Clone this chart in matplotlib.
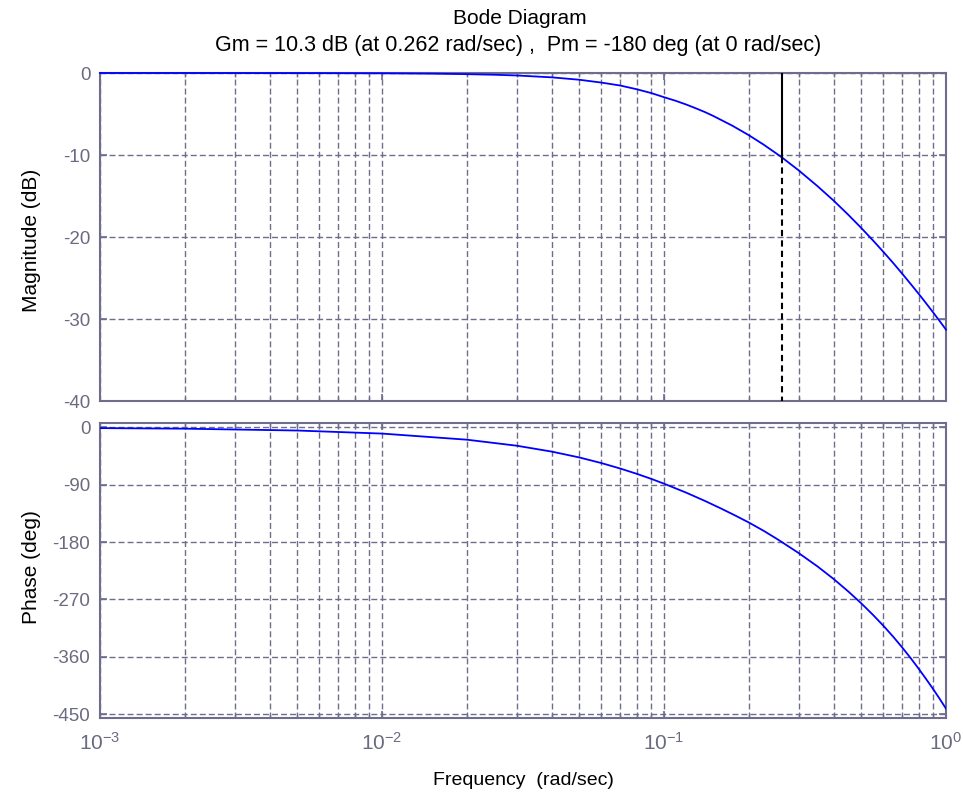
import matplotlib
matplotlib.use("Agg")
import matplotlib.pyplot as plt
from matplotlib.ticker import FixedLocator, LogLocator, NullFormatter, FixedFormatter

# Magnitude response samples (rad/sec, dB)
mag_freq = [0.001, 0.002, 0.005, 0.01, 0.015, 0.02, 0.025, 0.03, 0.04, 0.05,
            0.06, 0.07, 0.08, 0.09, 0.1, 0.11, 0.12, 0.13, 0.14, 0.15, 0.175,
            0.2, 0.225, 0.25, 0.262, 0.3, 0.35, 0.4, 0.45, 0.5, 0.55, 0.6,
            0.65, 0.7, 0.75, 0.8, 0.85, 0.9, 0.95, 1.0]
mag_db = [0.0, -0.001, -0.01, -0.035, -0.078, -0.14, -0.214, -0.30, -0.53, -0.82,
          -1.17, -1.53, -1.98, -2.44, -2.95, -3.39, -3.85, -4.32, -4.78, -5.26, -6.44,
          -7.59, -8.71, -9.80, -10.3, -11.86, -13.79, -15.58, -17.28, -18.88, -20.39, -21.82,
          -23.18, -24.49, -25.74, -26.93, -28.08, -29.19, -30.26, -31.3]

# Phase response samples (rad/sec, deg)
ph_freq = [0.001, 0.002, 0.005, 0.01, 0.02, 0.03, 0.04, 0.05, 0.06, 0.07,
           0.08, 0.09, 0.1, 0.12, 0.14, 0.16, 0.18, 0.2, 0.225, 0.25,
           0.262, 0.3, 0.35, 0.4, 0.45, 0.5, 0.55, 0.6, 0.65, 0.7,
           0.75, 0.8, 0.85, 0.9, 0.95, 1.0]
ph_deg = [-1.0, -1.9, -4.8, -9.6, -19.2, -28.6, -37.9, -47.0, -55.9, -64.5,
          -72.7, -80.6, -88.2, -102.4, -115.5, -127.6, -138.8, -149.2, -161.9, -174.2,
          -180.0, -197.0, -218.0, -238.0, -257.3, -275.8, -293.8, -311.3, -328.5, -345.5,
          -362.2, -378.7, -394.8, -410.5, -426.0, -441.3]

# Stability margins
gm_db = 10.3
gm_freq = 0.262
pm_deg = -180
pm_freq = 0

mag_ticks = [0, -10, -20, -30, -40]
phase_ticks = [0, -90, -180, -270, -360, -450]
freq_ticks = [1e-3, 1e-2, 1e-1, 1e0]
freq_tick_labels = [r"$10^{-3}$", r"$10^{-2}$", r"$10^{-1}$", r"$10^{0}$"]

plt.rcParams["font.family"] = ["Liberation Sans", "DejaVu Sans"]
plt.rcParams["mathtext.fontset"] = "custom"
plt.rcParams["mathtext.rm"] = "Liberation Sans"
plt.rcParams["mathtext.it"] = "Liberation Sans"

frame_col = "#6e6e8c"
label_col = "#6a6a80"
grid_dash = (0, (4.3, 2.2))

fig = plt.figure(figsize=(9.63, 7.96), dpi=100)
ax_mag = fig.add_axes([100 / 963, 1 - 401 / 796, 846 / 963, 328 / 796])
ax_ph = fig.add_axes([100 / 963, 1 - 718 / 796, 846 / 963, 295 / 796])


def style(ax, yticks):
    ax.set_xscale("log")
    ax.set_xlim(1e-3, 1)
    ax.xaxis.set_major_locator(FixedLocator(freq_ticks))
    ax.xaxis.set_minor_locator(LogLocator(base=10, subs=range(2, 10), numticks=20))
    ax.xaxis.set_minor_formatter(NullFormatter())
    ax.yaxis.set_major_locator(FixedLocator(yticks))
    for s in ax.spines.values():
        s.set_color(frame_col)
        s.set_linewidth(1.5)
    ax.tick_params(which="both", direction="in", top=True, right=True,
                   color=frame_col, labelcolor=label_col, labelsize=13.5)
    ax.tick_params(which="major", length=5, width=1.2, pad=7)
    ax.tick_params(which="minor", length=3, width=1.0)
    ax.grid(True, which="major", axis="both", color=frame_col,
            linestyle=grid_dash, linewidth=1.0)
    ax.grid(True, which="minor", axis="x", color=frame_col,
            linestyle=grid_dash, linewidth=1.0)
    ax.set_axisbelow(True)


style(ax_mag, mag_ticks)
ax_mag.set_ylim(-40, 0)
ax_mag.set_yticklabels([str(t) for t in mag_ticks])
ax_mag.tick_params(axis="x", labelbottom=False)
ax_mag.plot(mag_freq, mag_db, color="#0000ff", linewidth=1.3, clip_on=False, zorder=3)

# Gain margin marker: solid down to the curve, dashed below it
ax_mag.plot([gm_freq, gm_freq], [0, -gm_db], color="black", linewidth=1.5, zorder=4)
ax_mag.plot([gm_freq, gm_freq], [-gm_db, -40], color="black", linewidth=1.5,
            linestyle=(0, (3, 2)), zorder=4)
ax_mag.set_ylabel("Magnitude (dB)", fontsize=15)
ax_mag.yaxis.set_label_coords(-0.07, 0.49)

style(ax_ph, phase_ticks)
ax_ph.set_ylim(-456, 7)
ax_ph.set_yticklabels([str(t) for t in phase_ticks])
ax_ph.xaxis.set_major_formatter(FixedFormatter(freq_tick_labels))
ax_ph.tick_params(axis="x", labelsize=15, pad=10)
ax_ph.plot(ph_freq, ph_deg, color="#0000ff", linewidth=1.3, zorder=3)
ax_ph.set_ylabel("Phase (deg)", fontsize=15)
ax_ph.yaxis.set_label_coords(-0.07, 0.51)
ax_ph.set_xlabel("Frequency  (rad/sec)", fontsize=14, labelpad=13)

fig.text(520 / 963, 1 - 18 / 796, "Bode Diagram", ha="center", va="center",
         fontsize=15)
fig.text(518 / 963, 1 - 46 / 796,
         f"Gm = {gm_db} dB (at {gm_freq} rad/sec) ,  Pm = {pm_deg} deg (at {pm_freq} rad/sec)",
         ha="center", va="center", fontsize=15.5)

fig.savefig("out.png", dpi=100)
